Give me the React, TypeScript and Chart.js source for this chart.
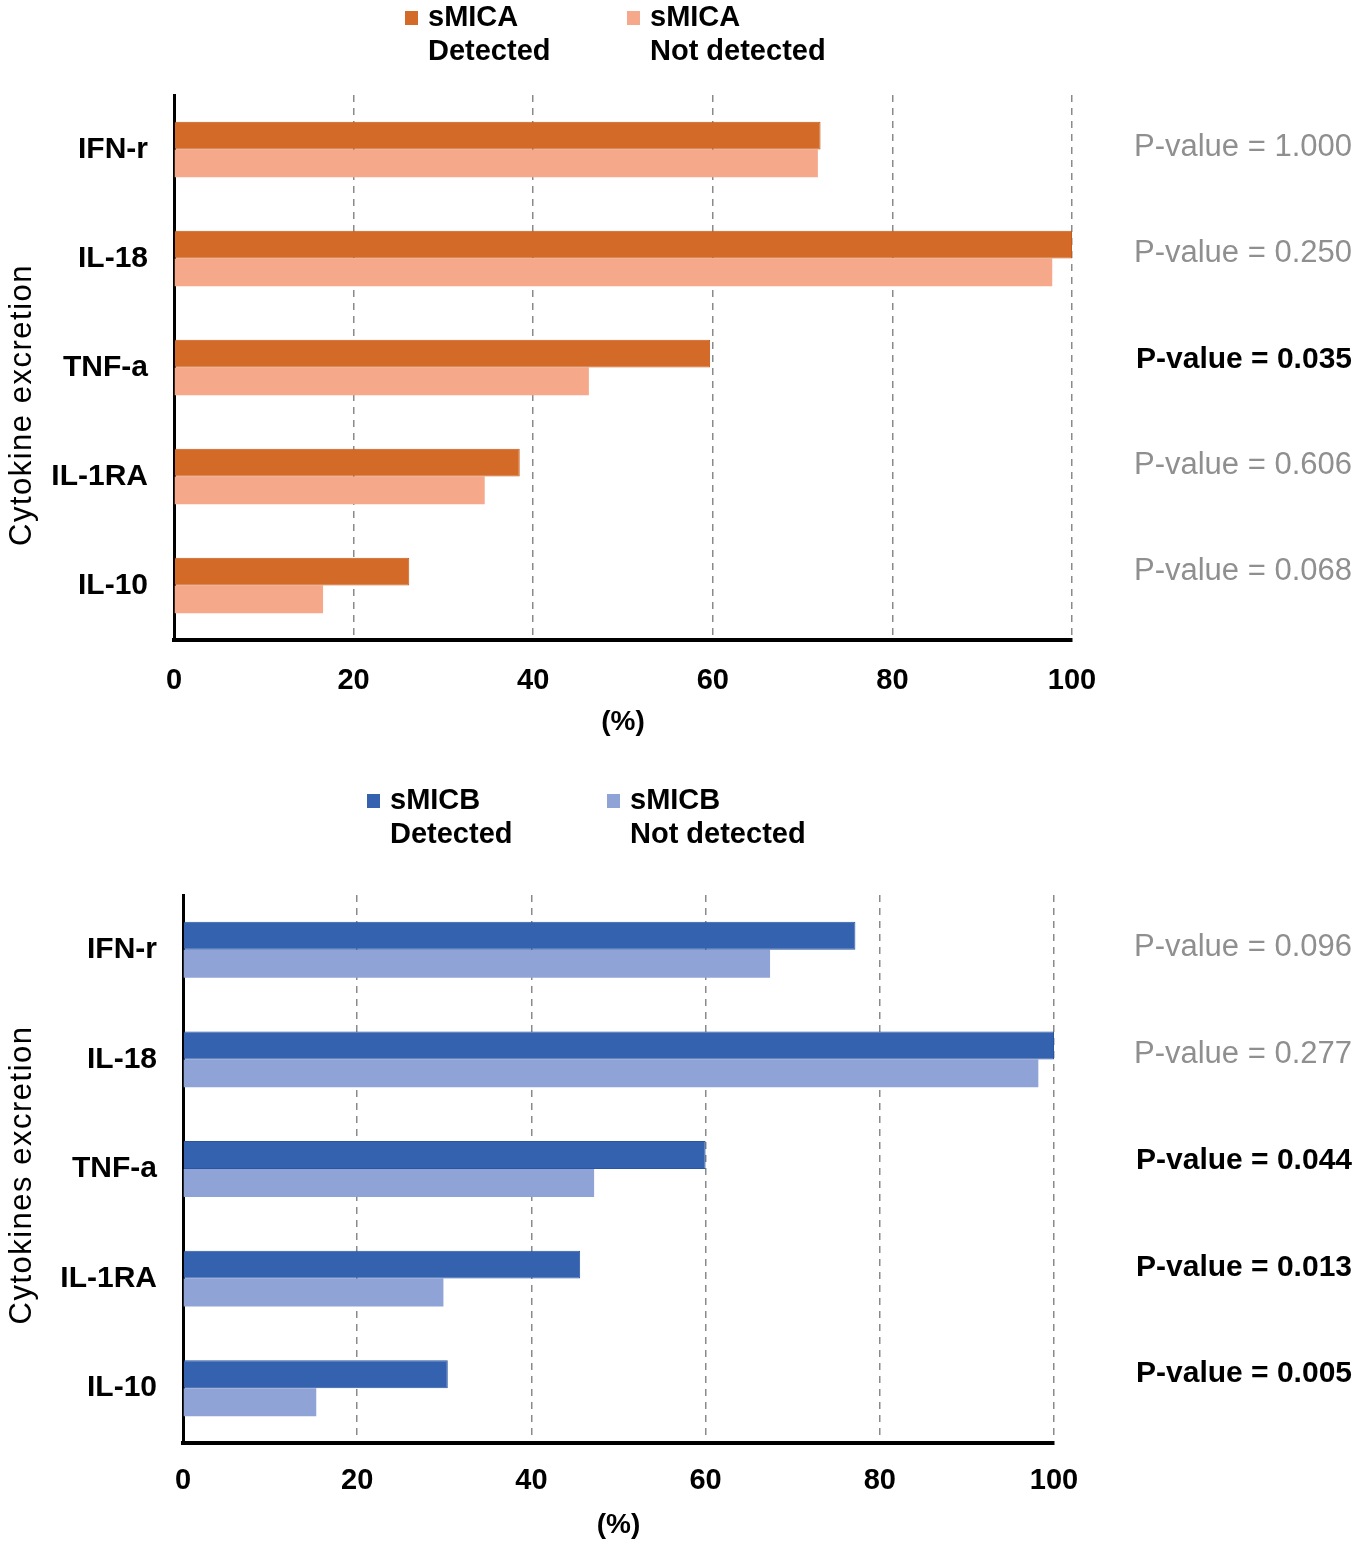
import { useEffect, useRef } from "react"
import { Chart, type ChartConfiguration, type Plugin, registerables } from "chart.js"

Chart.register(...registerables)

const cytokines = ["IFN-r", "IL-18", "TNF-a", "IL-1RA", "IL-10"]

const micaDetected = [72.0, 100, 59.7, 38.5, 26.2]
const micaNotDetected = [71.7, 97.8, 46.2, 34.6, 16.6]
const micaPValues = ["1.000", "0.250", "0.035", "0.606", "0.068"]
const micaSignificant = [false, false, true, false, false]

const micbDetected = [77.2, 100, 60.0, 45.6, 30.4]
const micbNotDetected = [67.4, 98.2, 47.2, 29.9, 15.3]
const micbPValues = ["0.096", "0.277", "0.044", "0.013", "0.005"]
const micbSignificant = [false, false, true, true, true]

const xTickValues = [0, 20, 40, 60, 80, 100]

const SANS = "'Liberation Sans', Arial, sans-serif"

type PanelProps = {
  height: number
  top: number
  left: number
  right: number
  bottom: number
  marker: string
  detected: number[]
  notDetected: number[]
  colors: [string, string]
  edge: string
  pValues: string[]
  significant: boolean[]
  yTitle: string
  legendY: number
  legendX: [number, number]
  tickPad: number
  titlePad: number
}

function Panel(p: PanelProps) {
  const chartRef = useRef<HTMLCanvasElement>(null)
  const chartInstance = useRef<Chart | null>(null)

  useEffect(() => {
    if (!chartRef.current) return
    if (chartInstance.current) chartInstance.current.destroy()
    const ctx = chartRef.current.getContext("2d")
    if (!ctx) return

    // legend, y title and p-values drawn by hand
    const extras: Plugin<"bar"> = {
      id: "extras",
      afterDraw(chart) {
        const c = chart.ctx
        const yScale = chart.scales.y
        c.save()

        // legend
        const second = ["Detected", "Not detected"]
        c.font = `bold 29px ${SANS}`
        c.textBaseline = "middle"
        c.textAlign = "left"
        p.legendX.forEach((lx, i) => {
          c.fillStyle = p.colors[i]
          c.fillRect(lx, p.legendY - 7, 13, 14)
          c.fillStyle = "#000"
          c.fillText(p.marker, lx + 23, p.legendY)
          c.fillText(second[i], lx + 23, p.legendY + 34)
        })

        // rotated y title
        c.save()
        c.translate(22, 405)
        c.rotate(-Math.PI / 2)
        c.font = `31px ${SANS}`
        ;(c as any).letterSpacing = "1.5px"
        c.textAlign = "center"
        c.fillStyle = "#000"
        c.fillText(p.yTitle, 0, 0)
        c.restore()

        // p-values
        c.textAlign = "right"
        cytokines.forEach((_, i) => {
          const y = yScale.getPixelForValue(i) - 2 - 3 * i
          if (p.significant[i]) {
            c.font = `bold 30px ${SANS}`
            c.fillStyle = "#000"
          } else {
            c.font = `31px ${SANS}`
            c.fillStyle = "#8f8f8f"
          }
          c.fillText(`P-value = ${p.pValues[i]}`, 1352, y)
        })
        c.restore()
      },
    }

    const config: ChartConfiguration<"bar"> = {
      type: "bar",
      data: {
        labels: cytokines,
        datasets: [
          {
            label: `${p.marker} Detected`,
            data: p.detected,
            backgroundColor: p.colors[0],
            borderColor: p.edge,
            borderWidth: 1,
            categoryPercentage: 0.51,
            barPercentage: 1.0,
          },
          {
            label: `${p.marker} Not detected`,
            data: p.notDetected,
            backgroundColor: p.colors[1],
            borderWidth: 0,
            categoryPercentage: 0.51,
            barPercentage: 1.0,
          },
        ],
      },
      options: {
        indexAxis: "y",
        responsive: false,
        animation: false,
        layout: {
          padding: { top: p.top, right: 1358 - p.right, left: 0, bottom: 0 },
        },
        plugins: {
          legend: { display: false },
          tooltip: { enabled: false },
        },
        scales: {
          x: {
            min: 0,
            max: 100,
            afterBuildTicks: (scale) => {
              scale.ticks = xTickValues.map((v) => ({ value: v }))
            },
            afterFit: (scale) => {
              scale.height = p.height - p.bottom
            },
            grid: {
              color: (c) => (c.tick && c.tick.value === 0 ? "rgba(0,0,0,0)" : "#8a8a8a"),
              lineWidth: 1.5,
              drawTicks: false,
            },
            border: { color: "#000", width: 4, dash: [7, 6] },
            ticks: {
              padding: p.tickPad,
              color: "#000",
              font: { family: SANS, size: 29, weight: "bold" },
            },
            title: {
              display: true,
              text: "(%)",
              color: "#000",
              font: { family: SANS, size: 28, weight: "bold" },
              padding: { top: 0, bottom: p.titlePad },
            },
          },
          y: {
            afterFit: (scale) => {
              scale.width = p.left
            },
            grid: { display: false, drawTicks: false },
            border: { color: "#000", width: 3 },
            ticks: {
              padding: 26,
              color: "#000",
              font: { family: SANS, size: 30, weight: "bold" },
            },
          },
        },
      },
      plugins: [extras],
    }

    chartInstance.current = new Chart(ctx, config)

    return () => {
      if (chartInstance.current) {
        chartInstance.current.destroy()
        chartInstance.current = null
      }
    }
  }, [])

  return (
    <div style={{ width: 1358, height: p.height }}>
      <canvas ref={chartRef} width={1358} height={p.height} style={{ display: "block" }} />
    </div>
  )
}

export default function App() {
  useEffect(() => {
    document.body.style.margin = "0"
  }, [])

  return (
    <div style={{ width: 1358, background: "#fff" }}>
      <Panel
        height={770}
        top={95}
        left={174}
        right={1072}
        bottom={640}
        marker="sMICA"
        detected={micaDetected}
        notDetected={micaNotDetected}
        colors={["#D46A28", "#F5A98A"]}
        edge="#C65A18"
        pValues={micaPValues}
        significant={micaSignificant}
        yTitle="Cytokine excretion"
        legendY={18}
        legendX={[405, 627]}
        tickPad={24}
        titlePad={31}
      />
      <Panel
        height={778}
        top={125}
        left={183}
        right={1054}
        bottom={673}
        marker="sMICB"
        detected={micbDetected}
        notDetected={micbNotDetected}
        colors={["#3562AF", "#8FA3D7"]}
        edge="#2A55A3"
        pValues={micbPValues}
        significant={micbSignificant}
        yTitle="Cytokines excretion"
        legendY={31}
        legendX={[367, 607]}
        tickPad={21}
        titlePad={6}
      />
    </div>
  )
}
